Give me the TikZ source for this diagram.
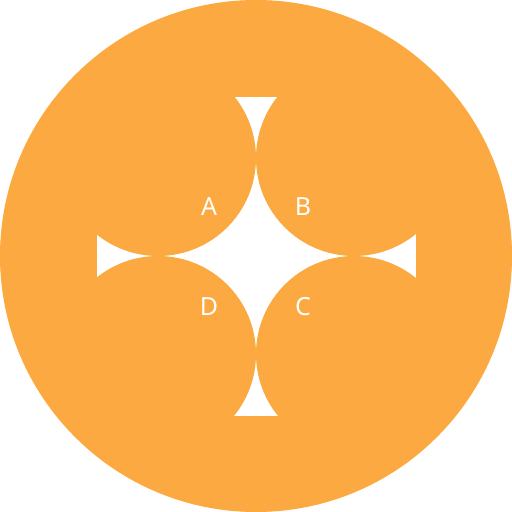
\documentclass[tikz,border=0pt]{standalone}
\usepackage{fontspec}
\setsansfont{Noto Sans}
\usetikzlibrary{math}
\definecolor{qorange}{RGB}{251,169,64}
\tikzset{letter/.style={text=white, inner sep=0pt, font=\sffamily\fontsize{25}{25}\selectfont}}
\begin{document}
\begin{tikzpicture}[x=1pt,y=-1pt]

\tikzmath{
\W = 512;
\R = \W/2;%disc radius
\S = 96.5;%edge of the white square
\cen = 158;%petal centre offset
\rad = 98;%petal radius
}

\useasboundingbox (0,0) rectangle (\W,\W);
\fill[qorange] (\R,\R) circle (\R pt);
\fill[white] (\S,\S) rectangle (\W-\S,\W-\S);
\foreach \px/\py in {\cen/\cen, \W-\cen/\cen, \W-\cen/\W-\cen, \cen/\W-\cen}{
\fill[qorange] (\px,\py) circle (\rad pt);
}
\node[letter] (A) at (209,207) {A};
\node[letter] (B) at (303,207) {B};
\node[letter] (C) at (303,307) {C};
\node[letter] (D) at (209,307) {D};

\end{tikzpicture}
\end{document}
